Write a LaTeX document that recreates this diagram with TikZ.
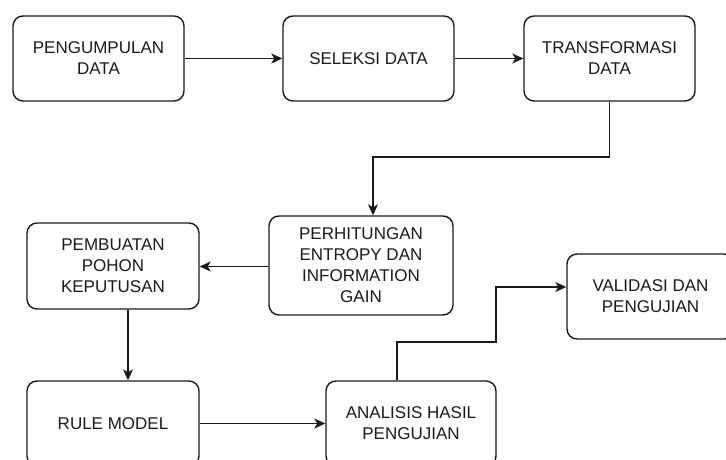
\documentclass[tikz,border=0pt]{standalone}
\usepackage{fontspec}
\setmainfont{Liberation Sans}
\usetikzlibrary{arrows.meta,calc}
\definecolor{ink}{HTML}{1A1A1A}
\begin{document}
\begin{tikzpicture}[x=1pt,y=-1pt,
  box/.style={draw=ink, line width=1.4pt, rounded corners=10pt, fill=white,
    align=center, text=ink, inner sep=2pt,
    font=\fontsize{17}{21}\selectfont},
  arr/.style={draw=ink, line width=1.4pt, -{Stealth[length=11pt,width=10pt,inset=3pt]}},
  ln/.style={draw=ink, line width=1.4pt}]
\useasboundingbox (0,0) rectangle (726,459);
\begin{scope}
\clip (0,0) rectangle (726,459);
\node[box, minimum width=171pt, minimum height=85pt] (b1) at (98.5,58.5) {PENGUMPULAN\\DATA};
\node[box, minimum width=171pt, minimum height=85pt] (b2) at (368.5,58.5) {SELEKSI DATA};
\node[box, minimum width=171pt, minimum height=85pt] (b3) at (609.5,58.5) {TRANSFORMASI\\DATA};
\node[box, minimum width=184pt, minimum height=99pt] (b4) at (361,265.5) {PERHITUNGAN\\ENTROPY DAN\\INFORMATION\\GAIN};
\node[box, minimum width=172pt, minimum height=86pt] (b5) at (113,266) {PEMBUATAN\\POHON\\KEPUTUSAN};
\node[box, minimum width=172pt, minimum height=85pt] (b6) at (113,423.5) {RULE MODEL};
\node[box, minimum width=170pt, minimum height=85pt] (b7) at (411,423.5) {ANALISIS HASIL\\PENGUJIAN};
\node[box, minimum width=167pt, minimum height=85pt] (b8) at (650.5,296.5) {VALIDASI DAN\\PENGUJIAN};

\coordinate (k1) at (373,157);
\coordinate (k2) at (128,0);
\coordinate (k3) at (397,342);
\coordinate (k4) at (496,287);

\draw[arr] (b1.east) -- (b2.west);
\draw[arr] (b2.east) -- (b3.west);
\draw[arr] (b3.south) |- (k1) -- (k1 |- b4.north);
\draw[arr] ($(b4.west)+(0,1)$) -- ($(b4.west -| b5.east)+(0,1)$);
\draw[arr] (k2 |- b5.south) -- (k2 |- b6.north);
\draw[arr] (b6.east) -- (b7.west);
\draw[arr] (k3 |- b7.north) -- (k3) -| (k4) -- (k4 -| b8.west);
\end{scope}
\end{tikzpicture}
\end{document}
